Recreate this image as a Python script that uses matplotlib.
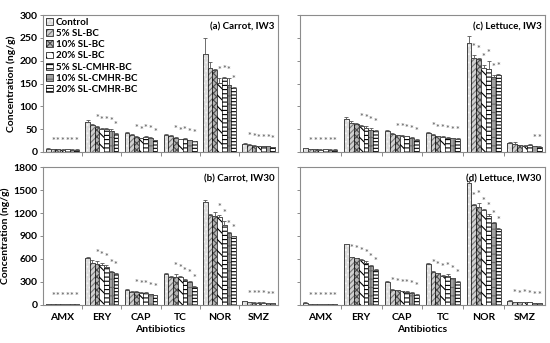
import numpy as np
import matplotlib
matplotlib.use("Agg")
import matplotlib.pyplot as plt
from matplotlib.legend_handler import HandlerTuple

plt.rcParams['font.family'] = ['Lato', 'DejaVu Sans']
plt.rcParams['font.weight'] = 'bold'
plt.rcParams['hatch.linewidth'] = 0.8

antibiotics = ['AMX', 'ERY', 'CAP', 'TC', 'NOR', 'SMZ']
treatments = ['Control', '5% SL-BC', '10% SL-BC', '20% SL-BC',
              '5% SL-CMHR-BC', '10% SL-CMHR-BC', '20% SL-CMHR-BC']

# values per antibiotic (rows) and treatment (columns)
carrot_iw3 = [[7, 6, 6, 5, 6, 5, 5],
              [66, 58, 54, 50, 50, 47, 40],
              [42, 37, 33, 30, 33, 31, 26],
              [38, 35, 31, 28, 29, 26, 24],
              [214, 183, 180, 152, 162, 147, 141],
              [18, 16, 14, 12, 12, 12, 10]]
carrot_iw3_err = [[1, 0.5, 0.5, 0.5, 0.5, 0.5, 0.5],
                  [5, 4, 3, 3, 3, 3, 2],
                  [2, 2, 2, 1, 2, 2, 1],
                  [2, 2, 2, 1, 1, 1, 1],
                  [35, 14, 2, 10, 2, 15, 2],
                  [1, 1, 1, 1, 1, 1, 1]]
carrot_iw3_stars = [[1, 2, 3, 4, 5, 6], [2, 3, 4, 5, 6], [2, 3, 4, 5, 6],
                    [2, 3, 4, 5, 6], [3, 4, 5, 6], [1, 2, 3, 4, 5, 6]]

lettuce_iw3 = [[8, 6, 6, 5, 6, 5, 5],
               [73, 64, 61, 56, 53, 49, 46],
               [45, 39, 37, 36, 34, 31, 27],
               [42, 37, 34, 33, 31, 30, 29],
               [238, 207, 203, 183, 181, 165, 168],
               [20, 17, 15, 14, 16, 13, 11]]
lettuce_iw3_err = [[1, 0.5, 0.5, 0.5, 0.5, 0.5, 0.5],
                   [4, 3, 2, 3, 3, 3, 2],
                   [3, 2, 1, 1, 1, 1, 1],
                   [2, 2, 1, 1, 1, 1, 1],
                   [17, 5, 4, 8, 18, 4, 3],
                   [1, 5, 1, 1, 1, 1, 1]]
lettuce_iw3_stars = [[1, 2, 3, 4, 5, 6], [3, 4, 5, 6], [2, 3, 4, 5, 6],
                     [1, 2, 3, 4, 5, 6], [1, 2, 3, 4, 5, 6], [5, 6]]

carrot_iw30 = [[15, 12, 12, 12, 11, 10, 8],
               [610, 553, 536, 527, 501, 436, 405],
               [196, 174, 170, 161, 161, 139, 126],
               [401, 370, 370, 362, 327, 296, 240],
               [1338, 1173, 1155, 1146, 1037, 937, 894],
               [45, 35, 30, 30, 30, 25, 25]]
carrot_iw30_err = [[3, 2, 2, 2, 2, 2, 2],
                   [20, 30, 40, 15, 15, 10, 10],
                   [8, 6, 6, 6, 6, 6, 6],
                   [10, 10, 30, 10, 10, 10, 10],
                   [35, 10, 60, 30, 60, 10, 10],
                   [3, 3, 3, 3, 3, 3, 3]]
carrot_iw30_stars = [[1, 2, 3, 4, 5, 6], [2, 3, 4, 5, 6], [2, 3, 4, 5, 6],
                     [2, 3, 4, 5, 6], [3, 4, 5, 6], [1, 2, 3, 4, 5, 6]]

lettuce_iw30 = [[30, 12, 12, 12, 12, 12, 10],
                [790, 622, 609, 591, 548, 514, 462],
                [298, 199, 190, 177, 173, 160, 134],
                [536, 430, 412, 378, 373, 348, 305],
                [1598, 1307, 1277, 1234, 1156, 1070, 993],
                [56, 41, 32, 41, 32, 24, 24]]
lettuce_iw30_err = [[3, 2, 2, 2, 2, 2, 2],
                    [10, 10, 10, 10, 30, 10, 10],
                    [10, 8, 10, 8, 8, 8, 8],
                    [10, 10, 10, 10, 30, 10, 10],
                    [15, 15, 60, 15, 30, 15, 15],
                    [3, 3, 3, 3, 3, 3, 3]]
lettuce_iw30_stars = [[1, 2, 3, 4, 5, 6]] * 6

faces = ['#dcdcdc', '#d0d0d0', '#b5b5b5', 'white', 'white', '#a0a0a0', 'white']
hatch_cols = ['#f4f4f4', '#7a7a7a', '#4d4d4d', 'black', 'black', '#6a6a6a', 'black']
hatches = ['....', '//////', 'xxxxx', '\\\\\\', '----', '++', '-----']

panels = [
    (carrot_iw3, carrot_iw3_err, carrot_iw3_stars, '(a) Carrot, IW3', 300, 50),
    (lettuce_iw3, lettuce_iw3_err, lettuce_iw3_stars, '(c) Lettuce, IW3', 300, 50),
    (carrot_iw30, carrot_iw30_err, carrot_iw30_stars, '(b) Carrot, IW30', 1800, 300),
    (lettuce_iw30, lettuce_iw30_err, lettuce_iw30_stars, '(d) Lettuce, IW30', 1800, 300),
]
rects = [[0.078, 0.557, 0.428, 0.399], [0.545, 0.557, 0.446, 0.399],
         [0.078, 0.111, 0.428, 0.402], [0.545, 0.111, 0.446, 0.402]]

fig = plt.figure(figsize=(5.5, 3.43), dpi=100)
w = 0.12
x = np.arange(len(antibiotics))
for k, (vals, errs, stars, title, ymax, step) in enumerate(panels):
    ax = fig.add_axes(rects[k])
    vals = np.array(vals, dtype=float)
    errs = np.array(errs, dtype=float)
    handles = []
    for j in range(len(treatments)):
        pos = x + (j - 3) * w
        b1 = ax.bar(pos, vals[:, j], w, color=faces[j], hatch=hatches[j],
                    edgecolor=hatch_cols[j], linewidth=0)
        b2 = ax.bar(pos, vals[:, j], w, fill=False, edgecolor='black',
                    linewidth=0.5)
        handles.append((b1[0], b2[0]))
        ax.errorbar(pos, vals[:, j], yerr=[np.zeros(len(x)), errs[:, j]],
                    fmt='none', ecolor='#555555', elinewidth=0.6,
                    capsize=1.5, capthick=0.6)
    off = 0.055 * ymax
    for i in range(len(antibiotics)):
        for j in stars[i]:
            ax.text(x[i] + (j - 3) * w, vals[i, j] + errs[i, j] + off, '*',
                    ha='center', va='center', fontsize=6.5, color='#6e6e6e')
    ax.set_xlim(-0.5, 5.5)
    ax.set_ylim(0, ymax)
    ax.set_yticks(np.arange(0, ymax + 1, step))
    ax.set_xticks(x)
    ax.set_xticks(np.arange(0.5, 5.5, 1), minor=True)
    ax.tick_params(axis='x', which='major', length=0, labelsize=7.5, pad=6)
    ax.tick_params(axis='x', which='minor', length=3, width=0.6, color='#777777')
    ax.tick_params(axis='y', length=2.5, width=0.6, color='#777777',
                   labelsize=7.5, pad=1.5)
    for sp in ax.spines.values():
        sp.set_color('#8c8c8c')
        sp.set_linewidth(0.8)
    ax.text(0.985, 0.95, title, transform=ax.transAxes, ha='right', va='top',
            fontsize=7, fontweight='bold')
    if k >= 2:
        ax.set_xticklabels(antibiotics)
        ax.set_xlabel('Antibiotics', fontsize=7.5, fontweight='bold', labelpad=2)
    else:
        ax.set_xticklabels([])
    if k % 2 == 0:
        ax.set_ylabel('Concentration (ng/g)', fontsize=7.5, fontweight='bold',
                      labelpad=2)
    else:
        ax.set_yticklabels([])
    if k == 0:
        ax.legend(handles, treatments, loc='upper left', frameon=False,
                  fontsize=7, handlelength=0.7, handleheight=0.7,
                  handletextpad=0.3, labelspacing=0.22, borderaxespad=0.2,
                  borderpad=0.1, handler_map={tuple: HandlerTuple(ndivide=1)})

fig.savefig('out.png', dpi=100)
